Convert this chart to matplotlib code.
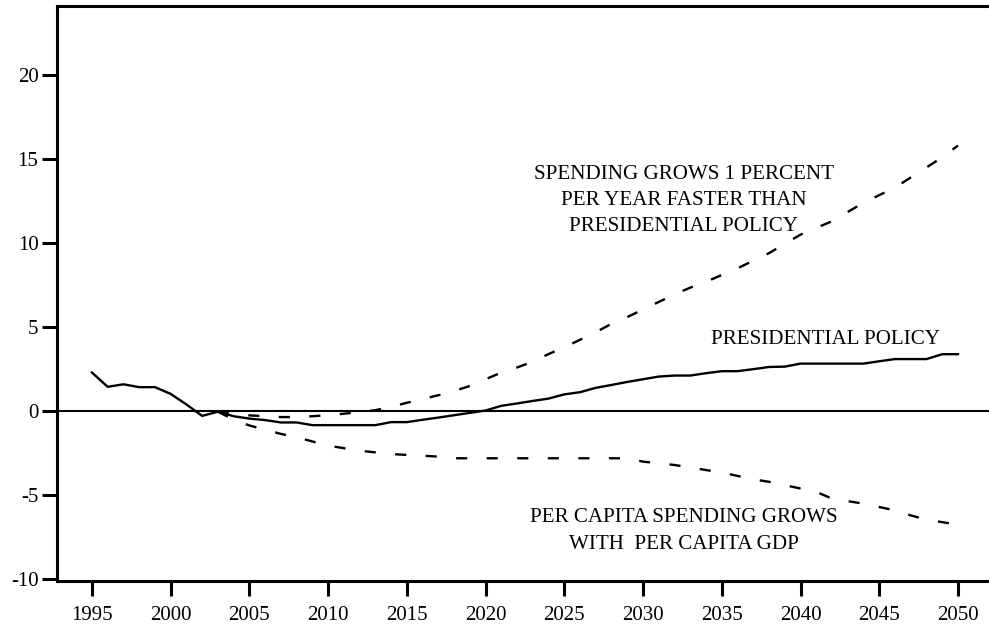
import matplotlib
matplotlib.use("Agg")
import matplotlib.pyplot as plt

plt.rcParams['font.family'] = ['Liberation Serif', 'DejaVu Serif']
plt.rcParams['lines.scale_dashes'] = False

years_pres = list(range(1995, 2051))
pres_policy = [2.3, 1.45, 1.6, 1.43, 1.43, 1.03, 0.4, -0.28, -0.03, -0.3,
               -0.44, -0.53, -0.67, -0.67, -0.83, -0.83, -0.83, -0.83, -0.83, -0.65,
               -0.65, -0.51, -0.38, -0.24, -0.1, 0.04, 0.32, 0.46, 0.61, 0.75,
               1.0, 1.13, 1.39, 1.56, 1.74, 1.9, 2.06, 2.12, 2.12, 2.26,
               2.38, 2.38, 2.5, 2.63, 2.65, 2.83, 2.83, 2.83, 2.83, 2.83,
               2.97, 3.1, 3.1, 3.1, 3.39, 3.39]

years_alt = list(range(2003, 2051))
faster_growth = [-0.03, -0.15, -0.25, -0.3, -0.35, -0.35, -0.3, -0.24, -0.15, -0.05,
                 0.06, 0.26, 0.5, 0.72, 0.95, 1.2, 1.5, 1.9, 2.3, 2.6,
                 2.95, 3.4, 3.8, 4.25, 4.7, 5.2, 5.6, 6.05, 6.5, 6.95,
                 7.35, 7.7, 8.1, 8.5, 8.95, 9.4, 9.95, 10.5, 10.9, 11.3,
                 11.85, 12.4, 12.85, 13.3, 13.9, 14.5, 15.1, 15.8]
per_capita_gdp = [-0.03, -0.5, -0.85, -1.1, -1.35, -1.55, -1.8, -2.05, -2.2, -2.35,
                  -2.45, -2.55, -2.6, -2.65, -2.7, -2.8, -2.8, -2.8, -2.8, -2.8,
                  -2.8, -2.8, -2.8, -2.8, -2.8, -2.8, -2.8, -3.0, -3.1, -3.2,
                  -3.35, -3.5, -3.65, -3.85, -4.05, -4.2, -4.4, -4.6, -4.8, -5.2,
                  -5.35, -5.5, -5.7, -5.9, -6.2, -6.45, -6.6, -6.75]

x_ticks = list(range(1995, 2051, 5))
y_ticks = [-10, -5, 0, 5, 10, 15, 20]

fig = plt.figure(figsize=(9.89, 6.28), dpi=100)
ax = fig.add_axes([56.5 / 989, 47 / 628, 1 - 56.5 / 989, 575 / 628])

ax.axhline(0, color='black', lw=1.5, zorder=1)
ax.plot(years_pres, pres_policy, color='black', lw=1.7, solid_joinstyle='round')
ax.plot(years_alt, faster_growth, color='black', lw=1.7, dashes=(8, 14))
ax.plot(years_alt, per_capita_gdp, color='black', lw=1.7, dashes=(8, 14))

ax.set_xlim(1992.75, 2051.97)
ax.set_ylim(-10.1, 24.1)
ax.set_xticks(x_ticks)
ax.set_yticks(y_ticks)
ax.set_xticklabels([str(v) for v in x_ticks])
ax.set_yticklabels([str(v) for v in y_ticks])

for s in ['left', 'top', 'bottom']:
    ax.spines[s].set_linewidth(2.2)
ax.spines['right'].set_visible(False)
ax.tick_params(axis='both', direction='out', length=11, width=2.2, labelsize=15, colors='black')
ax.tick_params(axis='x', pad=7)
ax.tick_params(axis='y', pad=2)

fs = 15.1
ax.text(2032.6, 14.06, 'SPENDING GROWS 1 PERCENT', ha='center', va='center', fontsize=fs)
ax.text(2032.6, 12.51, 'PER YEAR FASTER THAN', ha='center', va='center', fontsize=fs)
ax.text(2032.6, 10.97, 'PRESIDENTIAL POLICY', ha='center', va='center', fontsize=fs)
ax.text(2041.6, 4.26, 'PRESIDENTIAL POLICY', ha='center', va='center', fontsize=fs)
ax.text(2032.6, -6.33, 'PER CAPITA SPENDING GROWS', ha='center', va='center', fontsize=fs)
ax.text(2032.6, -7.93, 'WITH  PER CAPITA GDP', ha='center', va='center', fontsize=fs)

fig.savefig('out.png', dpi=100)
